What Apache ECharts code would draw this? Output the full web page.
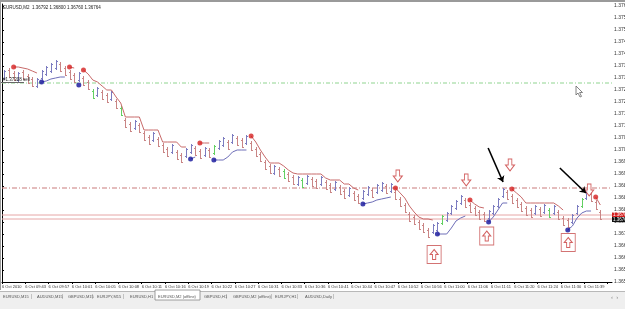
<!DOCTYPE html>
<html><head><meta charset="utf-8">
<script src="https://cdn.jsdelivr.net/npm/echarts@6/dist/echarts.min.js"></script>
<style>html,body{margin:0;padding:0;background:#fff}#c{width:625px;height:309px}</style>
</head><body><div id="c"></div>
<script>
// ---- data ----
const timeLabels = ['6 Oct 2010','6 Oct 09:43','6 Oct 09:57','6 Oct 10:01','6 Oct 10:05','6 Oct 10:08','6 Oct 10:11','6 Oct 10:16','6 Oct 10:19','6 Oct 10:22','6 Oct 10:27','6 Oct 10:31','6 Oct 10:33','6 Oct 10:36','6 Oct 10:41','6 Oct 10:44','6 Oct 10:47','6 Oct 10:52','6 Oct 10:56','6 Oct 11:00','6 Oct 11:06','6 Oct 11:11','6 Oct 11:20','6 Oct 11:24','6 Oct 11:30','6 Oct 11:39'];
const open = [1.37328,1.37360,1.37348,1.37320,1.37352,1.37336,1.37324,1.37296,1.37328,1.37344,1.37356,1.37368,1.37384,1.37368,1.37352,1.37340,1.37320,1.37328,1.37312,1.37276,1.37260,1.37272,1.37260,1.37244,1.37236,1.37208,1.37160,1.37144,1.37128,1.37140,1.37108,1.37092,1.37080,1.37084,1.37060,1.37044,1.37032,1.37032,1.37020,1.37016,1.37032,1.37048,1.37036,1.37020,1.37040,1.37028,1.37048,1.37060,1.37072,1.37072,1.37088,1.37080,1.37068,1.37068,1.37044,1.37024,1.36992,1.36976,1.36948,1.36964,1.36956,1.36944,1.36932,1.36904,1.36920,1.36908,1.36924,1.36916,1.36904,1.36912,1.36900,1.36884,1.36892,1.36876,1.36860,1.36868,1.36856,1.36848,1.36864,1.36880,1.36872,1.36880,1.36896,1.36876,1.36872,1.36844,1.36820,1.36784,1.36772,1.36752,1.36740,1.36720,1.36712,1.36720,1.36748,1.36760,1.36788,1.36808,1.36828,1.36840,1.36820,1.36808,1.36792,1.36784,1.36768,1.36788,1.36816,1.36856,1.36872,1.36856,1.36840,1.36824,1.36808,1.36800,1.36788,1.36804,1.36792,1.36800,1.36788,1.36792,1.36768,1.36760,1.36752,1.36788,1.36816,1.36848,1.36864,1.36832,1.36792];
const high = [1.37360,1.37368,1.37356,1.37352,1.37360,1.37344,1.37332,1.37328,1.37360,1.37376,1.37388,1.37400,1.37392,1.37376,1.37360,1.37348,1.37352,1.37336,1.37320,1.37284,1.37292,1.37280,1.37268,1.37276,1.37244,1.37216,1.37168,1.37152,1.37160,1.37148,1.37116,1.37100,1.37112,1.37092,1.37068,1.37052,1.37064,1.37040,1.37028,1.37048,1.37064,1.37056,1.37044,1.37052,1.37048,1.37060,1.37080,1.37092,1.37080,1.37104,1.37096,1.37088,1.37100,1.37076,1.37052,1.37032,1.37000,1.36984,1.36980,1.36972,1.36964,1.36952,1.36940,1.36936,1.36928,1.36940,1.36932,1.36924,1.36936,1.36920,1.36908,1.36916,1.36900,1.36884,1.36892,1.36876,1.36864,1.36880,1.36896,1.36888,1.36904,1.36912,1.36904,1.36908,1.36880,1.36852,1.36828,1.36792,1.36780,1.36760,1.36748,1.36728,1.36744,1.36752,1.36780,1.36792,1.36820,1.36840,1.36860,1.36848,1.36828,1.36816,1.36800,1.36792,1.36800,1.36820,1.36848,1.36888,1.36880,1.36864,1.36848,1.36832,1.36816,1.36808,1.36820,1.36812,1.36824,1.36808,1.36820,1.36800,1.36776,1.36768,1.36784,1.36820,1.36848,1.36880,1.36872,1.36840,1.36800];
const low = [1.37320,1.37328,1.37316,1.37312,1.37320,1.37304,1.37292,1.37288,1.37320,1.37336,1.37348,1.37360,1.37352,1.37336,1.37320,1.37308,1.37312,1.37296,1.37280,1.37244,1.37252,1.37240,1.37228,1.37236,1.37204,1.37176,1.37128,1.37112,1.37120,1.37108,1.37076,1.37060,1.37072,1.37052,1.37028,1.37012,1.37024,1.37000,1.36988,1.37008,1.37024,1.37016,1.37004,1.37012,1.37008,1.37020,1.37040,1.37052,1.37040,1.37064,1.37056,1.37048,1.37060,1.37036,1.37012,1.36992,1.36960,1.36944,1.36940,1.36932,1.36924,1.36912,1.36900,1.36896,1.36888,1.36900,1.36892,1.36884,1.36896,1.36880,1.36868,1.36876,1.36860,1.36844,1.36852,1.36836,1.36824,1.36840,1.36856,1.36848,1.36864,1.36872,1.36864,1.36868,1.36840,1.36812,1.36788,1.36752,1.36740,1.36720,1.36708,1.36688,1.36704,1.36712,1.36740,1.36752,1.36780,1.36800,1.36820,1.36808,1.36788,1.36776,1.36760,1.36752,1.36760,1.36780,1.36808,1.36848,1.36840,1.36824,1.36808,1.36792,1.36776,1.36768,1.36780,1.36772,1.36784,1.36768,1.36780,1.36760,1.36736,1.36728,1.36744,1.36780,1.36808,1.36840,1.36832,1.36800,1.36760];
const close = [1.37356,1.37332,1.37320,1.37348,1.37324,1.37308,1.37296,1.37324,1.37356,1.37372,1.37384,1.37396,1.37356,1.37340,1.37324,1.37312,1.37348,1.37300,1.37284,1.37248,1.37288,1.37244,1.37232,1.37272,1.37208,1.37180,1.37132,1.37116,1.37156,1.37112,1.37080,1.37064,1.37108,1.37056,1.37032,1.37016,1.37060,1.37004,1.36992,1.37044,1.37060,1.37020,1.37008,1.37048,1.37012,1.37056,1.37076,1.37088,1.37044,1.37100,1.37060,1.37052,1.37096,1.37040,1.37016,1.36996,1.36964,1.36948,1.36976,1.36936,1.36928,1.36916,1.36904,1.36932,1.36892,1.36936,1.36896,1.36888,1.36932,1.36884,1.36872,1.36912,1.36864,1.36848,1.36888,1.36840,1.36828,1.36876,1.36892,1.36852,1.36900,1.36908,1.36868,1.36904,1.36844,1.36816,1.36792,1.36756,1.36744,1.36724,1.36712,1.36692,1.36740,1.36748,1.36776,1.36788,1.36816,1.36836,1.36856,1.36812,1.36792,1.36780,1.36764,1.36756,1.36796,1.36816,1.36844,1.36884,1.36844,1.36828,1.36812,1.36796,1.36780,1.36772,1.36816,1.36776,1.36820,1.36772,1.36816,1.36764,1.36740,1.36732,1.36780,1.36816,1.36844,1.36876,1.36836,1.36804,1.36764];
const greenBars = [19,25,45,60,64,94,117,124];
// trailing stop indicator: [first bar index, values]
const redStop = [
  [2,[1.37372,1.37372,1.37368,1.37364,1.37356,1.37348]],
  [14,[1.37372,1.37368]],
  [17,[1.37360,1.37344,1.37320,1.37312,1.37296,1.37280,1.37280,1.37252,1.37228,1.37172,1.37172,1.37172,1.37172,1.37120,1.37120,1.37120,1.37120,1.37072,1.37072,1.37072,1.37072,1.37052,1.37052]],
  [42,[1.37068,1.37068,1.37068]],
  [53,[1.37096,1.37072,1.37040,1.37012,1.36988,1.36988,1.36988,1.36976,1.36960,1.36948,1.36944,1.36944,1.36944,1.36944,1.36944,1.36944,1.36928,1.36920,1.36920,1.36920,1.36904,1.36904,1.36888,1.36880]],
  [84,[1.36888,1.36868,1.36848,1.36816,1.36792,1.36772,1.36764,1.36764,1.36760]],
  [100,[1.36840,1.36824,1.36812,1.36808]],
  [109,[1.36884,1.36868,1.36852,1.36828,1.36828,1.36828,1.36828,1.36828,1.36828,1.36828,1.36816,1.36800]],
  [127,[1.36852,1.36820]]
];
const blueStop = [
  [8,[1.37312,1.37316,1.37324,1.37328,1.37332,1.37332]],
  [16,[1.37300]],
  [40,[1.37004,1.37012]],
  [45,[1.37000,1.37000,1.37000,1.37012,1.37032,1.37040,1.37040,1.37040]],
  [77,[1.36824,1.36828,1.36832,1.36840,1.36844,1.36848,1.36852]],
  [93,[1.36704,1.36704,1.36704,1.36728,1.36756,1.36768,1.36776]],
  [104,[1.36752,1.36772,1.36800,1.36828,1.36828]],
  [121,[1.36720,1.36736,1.36768,1.36788,1.36796,1.36796]]
];
const orderLevel = 1.37308;
const alertLevel = 1.36888;
const askPrice = 1.36780;
const bidPrice = 1.36764;
const downArrows = [[85.0,1.36936],[99.7,1.36920],[109.1,1.36980],[126.1,1.36880]];
const upBoxes = [[92.8,1.36622],[104.1,1.36696],[121.6,1.36670]];
const blackArrows = [[104.4,1.37048,107.6,1.36912],[119.8,1.36968,125.4,1.36868]];
const tabs = ['EURUSD,M15','AUDUSD,M15','GBPUSD,M15','EURJPY,M15','EURUSD,H1','EURUSD,M2 (offline)','GBPUSD,H1','GBPUSD,M2 (offline)','EURJPY,H1','AUDUSD,Daily'];
const activeTab = 5;

// ---- chart ----
const FONT = 'Liberation Sans';
const nSlots = 131;
const UPC = '#7c7cc0', DNC = '#c98585', GRC = '#62d062';
const RLINE = '#c86a6a', BLINE = '#6e6eb8';
const chart = echarts.init(document.getElementById('c'));
const barData = open.map((o,i)=>[i+0.5, o, high[i], low[i], close[i]]);
function buildLine(segs){
  const arr = [];
  for (let i=0;i<open.length;i++) arr.push([i+0.5,'-']);
  segs.forEach(([s,vals])=>vals.forEach((v,k)=>{arr[s+k][1]=v;}));
  return arr;
}
const dots = segs => segs.map(([s,vals])=>[s+0.5, vals[0]]);
const levelSeries = (v, color, type) => ({type:'line',z:1,silent:true,symbol:'none',
  data:[[0,v],[nSlots,v]],lineStyle:{color:color,width:1,type:type}});

const option = {
  animation:false,
  backgroundColor:'#fff',
  grid:{left:2,right:13,top:4,bottom:27,containLabel:false,outerBoundsMode:'none'},
  xAxis:{type:'value',min:0,max:nSlots,interval:5,
    axisLine:{lineStyle:{color:'#000',width:1}},
    axisTick:{length:2,lineStyle:{color:'#000'}},
    splitLine:{show:false},
    axisLabel:{formatter:v=>(v%5===0 && timeLabels[v/5]!==undefined) ? timeLabels[v/5] : '',
      align:'left',fontSize:4,color:'#333',margin:3,fontFamily:FONT,showMinLabel:true,showMaxLabel:false}},
  yAxis:{type:'value',position:'right',min:1.36512,max:1.37624,interval:0.00048,
    axisLine:{show:true,lineStyle:{color:'#000',width:1}},
    axisTick:{show:true,length:2,lineStyle:{color:'#000'}},
    splitLine:{show:false},
    axisLabel:{formatter:v=>v.toFixed(5),fontSize:5,color:'#333',margin:2,fontFamily:FONT,showMaxLabel:false}},
  series:[
    levelSeries(orderLevel,'#8fd48f',[4,2,1,2]),
    levelSeries(alertLevel,'#c97a7a',[5,2,1,2]),
    levelSeries(askPrice,'#e6a6a6','solid'),
    levelSeries(bidPrice,'#e6a6a6','solid'),
    {type:'custom',z:2,data:barData,encode:{x:0,y:[1,2,3,4]},silent:true,
     renderItem:(params,api)=>{
       const x=api.value(0);
       const o=api.coord([x,api.value(1)]), h=api.coord([x,api.value(2)]), l=api.coord([x,api.value(3)]), c=api.coord([x,api.value(4)]);
       const idx=params.dataIndex;
       const col = greenBars.indexOf(idx)>=0 ? GRC : (api.value(4)>=api.value(1) ? UPC : DNC);
       const cx=Math.round(h[0])+0.5;
       return {type:'group',children:[
         {type:'line',shape:{x1:cx,y1:h[1],x2:cx,y2:l[1]},style:{stroke:col,lineWidth:1}},
         {type:'line',shape:{x1:cx-1.5,y1:Math.round(o[1])+0.5,x2:cx,y2:Math.round(o[1])+0.5},style:{stroke:col,lineWidth:1}},
         {type:'line',shape:{x1:cx,y1:Math.round(c[1])+0.5,x2:cx+1.5,y2:Math.round(c[1])+0.5},style:{stroke:col,lineWidth:1}}
       ]};
     }},
    {type:'line',z:3,data:buildLine(redStop),symbol:'none',connectNulls:false,lineStyle:{color:RLINE,width:1},silent:true},
    {type:'line',z:3,data:buildLine(blueStop),symbol:'none',connectNulls:false,lineStyle:{color:BLINE,width:1},silent:true},
    {type:'scatter',z:4,data:dots(redStop),symbolSize:5,itemStyle:{color:'#d42020'},silent:true},
    {type:'scatter',z:4,data:dots(blueStop),symbolSize:5,itemStyle:{color:'#12129a'},silent:true},
    {type:'scatter',z:5,data:downArrows,symbol:'path://M3,0 L7,0 L7,6 L10,6 L5,12 L0,6 L3,6 Z',symbolSize:[9,12],
     itemStyle:{color:'#fff',borderColor:'#c83a3a',borderWidth:1},silent:true},
    {type:'scatter',z:5,data:upBoxes,symbol:'rect',symbolSize:[14,18],
     itemStyle:{color:'rgba(255,255,255,0)',borderColor:'#c85050',borderWidth:1},silent:true},
    {type:'scatter',z:6,data:upBoxes,symbol:'path://M5,0 L10,6 L7,6 L7,12 L3,12 L3,6 L0,6 Z',symbolSize:[8,10],
     itemStyle:{color:'#fff',borderColor:'#c83a3a',borderWidth:1},silent:true},
    {type:'lines',coordinateSystem:'cartesian2d',z:7,symbol:['none','arrow'],symbolSize:6,silent:true,
     lineStyle:{color:'#000',width:1.6,opacity:1},
     data:blackArrows.map(a=>({coords:[[a[0],a[1]],[a[2],a[3]]]}))}
  ]
};
chart.setOption(option);

// overlay elements positioned with the chart's own scales
const yAsk = chart.convertToPixel({gridIndex:0},[0,askPrice])[1];
const yBid = chart.convertToPixel({gridIndex:0},[0,bidPrice])[1];
const yOrd = chart.convertToPixel({gridIndex:0},[0,orderLevel])[1];
const xAx = chart.convertToPixel({gridIndex:0},[nSlots,askPrice])[0];
const graphic = [
  {type:'rect',shape:{x:0,y:0,width:625,height:2},style:{fill:'#9a9a9a'},z:100},
  {type:'rect',shape:{x:0,y:0,width:1,height:290},style:{fill:'#9a9a9a'},z:100},
  {type:'text',x:3,y:5,style:{text:'EURUSD,M2  1.36792 1.36800 1.36760 1.36764',fontSize:4.5,fill:'#222',fontFamily:FONT},z:100},
  {type:'line',shape:{x1:1,y1:Math.round(yOrd)-0.5,x2:24,y2:Math.round(yOrd)-0.5},style:{stroke:'#666',lineWidth:1},z:100},
  {type:'text',x:3,y:yOrd-6,style:{text:'#1.37308 sell',fontSize:4.5,fill:'#222',fontFamily:FONT},z:100},
  {type:'rect',shape:{x:xAx,y:yAsk-2.5,width:625-xAx,height:5},style:{fill:'#d42020'},z:100},
  {type:'text',x:xAx+1,y:yAsk-2.3,style:{text:askPrice.toFixed(5),fontSize:4.5,fill:'#fff',fontFamily:FONT},z:101},
  {type:'rect',shape:{x:xAx,y:yBid-2,width:625-xAx,height:5},style:{fill:'#111'},z:100},
  {type:'text',x:xAx+1,y:yBid-1.8,style:{text:bidPrice.toFixed(5),fontSize:4.5,fill:'#fff',fontFamily:FONT},z:101},
  {type:'polygon',shape:{points:[[576,86],[576,95],[578,93],[580,97],[581.5,96.4],[579.6,92.5],[582.5,92.5]]},style:{fill:'#fff',stroke:'#666',lineWidth:0.8},z:100},
  {type:'rect',shape:{x:0,y:291,width:625,height:18},style:{fill:'#efefef'},z:100},
  {type:'line',shape:{x1:0,y1:291.5,x2:625,y2:291.5},style:{stroke:'#b8b8b8',lineWidth:1},z:101}
];
const tabX = [3,37,68,97,130,158,204,233,275,305];
const sepX = [31,62,92,123,151,null,226,271,297,333];
tabs.forEach((t,i)=>{
  if (i===activeTab){
    graphic.push({type:'rect',shape:{x:tabX[i]-3,y:290,width:45,height:10},style:{fill:'#fff',stroke:'#888',lineWidth:0.8},z:102});
  }
  graphic.push({type:'text',x:tabX[i],y:294.5,style:{text:t,fontSize:4,fill:'#555',fontFamily:FONT},z:103});
  if (sepX[i]!==null && i!==activeTab-1){
    graphic.push({type:'text',x:sepX[i],y:294.5,style:{text:'|',fontSize:4.5,fill:'#777',fontFamily:FONT},z:103});
  }
});
graphic.push({type:'text',x:611,y:294,style:{text:'‹  ›',fontSize:6,fill:'#888',fontFamily:FONT},z:103});
chart.setOption({graphic});
</script>
</body></html>
